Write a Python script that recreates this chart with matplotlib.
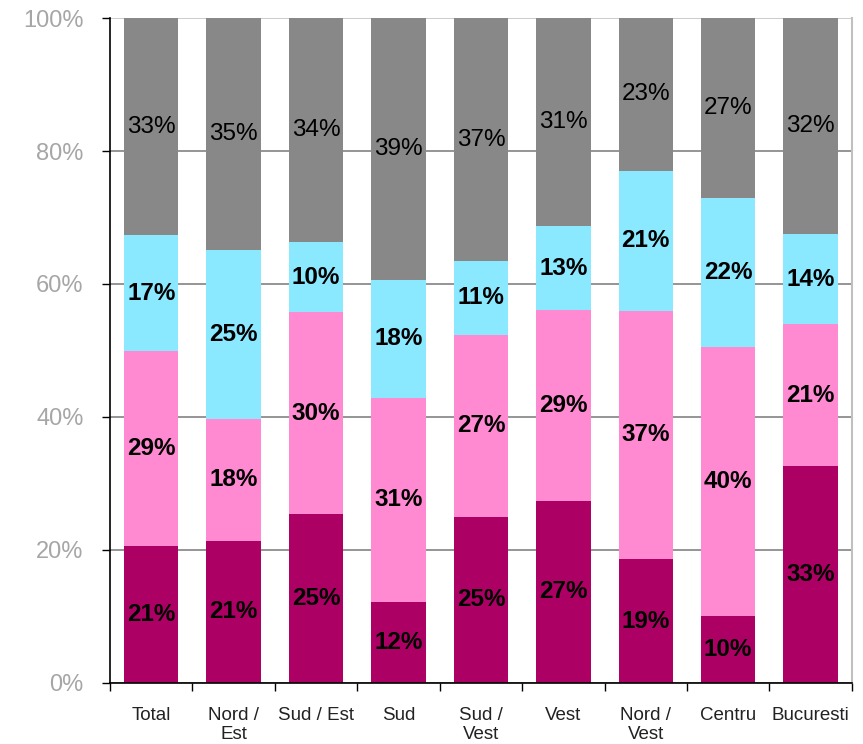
import matplotlib.pyplot as plt
import numpy as np

plt.rcParams['font.family'] = ['Liberation Sans', 'DejaVu Sans']

# categories and segment shares (bottom to top), in percent
regions = ['Total', 'Nord /\nEst', 'Sud / Est', 'Sud', 'Sud /\nVest', 'Vest',
           'Nord /\nVest', 'Centru', 'Bucuresti']
dark = [20.6, 21.4, 25.4, 12.2, 25.0, 27.4, 18.6, 10.1, 32.6]
pink = [29.3, 18.3, 30.4, 30.7, 27.4, 28.7, 37.4, 40.4, 21.4]
cyan = [17.4, 25.4, 10.5, 17.7, 11.0, 12.6, 21.0, 22.4, 13.5]
gray = [32.7, 34.9, 33.7, 39.4, 36.6, 31.3, 23.0, 27.1, 32.5]

series = [dark, pink, cyan, gray]
colors = ['#ad0064', '#ff8ad2', '#8ae8ff', '#888888']
weights = ['bold', 'bold', 'bold', 'normal']

fig = plt.figure(figsize=(8.63, 7.44), dpi=100)
ax = fig.add_axes([0.1275, 0.082, 0.8595, 0.8938])

x = np.arange(len(regions))
bottom = np.zeros(len(regions))
for vals, col, w in zip(series, colors, weights):
    vals = np.array(vals)
    ax.bar(x, vals, bottom=bottom, width=0.66, color=col, zorder=2)
    for xi, b, v in zip(x, bottom, vals):
        ax.text(xi, b + v / 2, '%d%%' % round(v), ha='center', va='center',
                fontsize=17.5, fontweight=w, color='black', zorder=3)
    bottom += vals

ax.set_xlim(-0.5, len(regions) - 0.5)
ax.set_ylim(0, 100)
ax.set_yticks([0, 20, 40, 60, 80, 100])
ax.set_yticklabels(['0%', '20%', '40%', '60%', '80%', '100%'])
ax.yaxis.grid(True, color='#8c8c8c', linewidth=1.3, zorder=1)
ax.get_ygridlines()[-1].set_color('#c8c8c8')
ax.tick_params(axis='y', labelsize=17, labelcolor='#a6a6a6', length=6,
               width=1, pad=13)

ax.set_xticks(x)
ax.set_xticklabels(regions, fontsize=13.5, color='#222222', linespacing=1.15)
ax.set_xticks(np.arange(len(regions) + 1) - 0.5, minor=True)
ax.tick_params(axis='x', which='major', length=0, pad=17)
ax.tick_params(axis='x', which='minor', length=6, width=1)

ax.spines['top'].set_visible(False)
ax.spines['right'].set_color('#c0c0c0')
ax.spines['right'].set_linewidth(1.5)
ax.spines['left'].set_linewidth(1.2)
ax.spines['bottom'].set_linewidth(1.2)

fig.savefig('out.png', dpi=100)
